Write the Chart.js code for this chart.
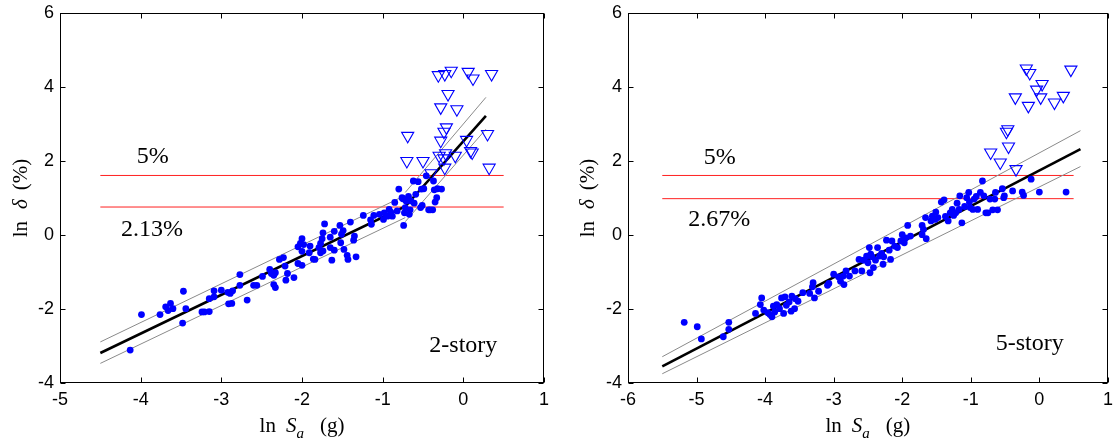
<!DOCTYPE html>
<html><head><meta charset="utf-8">
<script src="https://cdn.jsdelivr.net/npm/chart.js@4.4.1/dist/chart.umd.min.js"></script>
<style>
html,body{margin:0;padding:0;background:#fff;overflow:hidden}
#wrap{position:relative;width:1116px;height:443px;background:#fff}
canvas{position:absolute;top:0}
#c1{left:0}
#c2{left:558px}
</style></head><body>
<div id="wrap"><canvas id="c1" width="558" height="443"></canvas><canvas id="c2" width="558" height="443"></canvas></div>
<script>
// ---------- data: 2-story ----------
const story2Dots = [
[-4.13,-3.11],[-3.99,-2.15],[-3.76,-2.15],[-3.69,-1.94],[-3.63,-1.85],[-3.66,-2.04],[-3.60,-1.99],[-3.47,-1.52],
[-3.44,-1.99],[-3.48,-2.38],[-3.24,-2.08],[-3.21,-2.08],[-3.15,-2.07],[-3.15,-1.72],[-3.09,-1.51],[-3.09,-1.67],
[-3.00,-1.49],[-2.92,-1.55],[-2.89,-1.58],[-2.86,-1.51],[-2.91,-1.86],[-2.87,-1.85],[-2.77,-1.07],[-2.77,-1.36],
[-2.68,-1.76],[-2.60,-1.36],[-2.56,-1.36],[-2.49,-1.12],[-2.40,-0.93],[-2.38,-1.04],[-2.35,-1.09],[-2.33,-1.02],
[-2.35,-1.34],[-2.33,-1.42],[-2.28,-0.66],[-2.23,-0.61],[-2.21,-0.84],[-2.20,-1.22],[-2.18,-1.04],[-2.10,-1.15],
[-2.05,-0.32],[-2.02,-0.23],[-2.00,-0.10],[-1.98,-0.26],[-2.00,-0.44],[-2.05,-0.77],[-2.00,-0.82],[-1.91,-0.48],
[-1.90,-0.30],[-1.86,-0.65],[-1.84,-0.66],[-1.79,-0.34],[-1.77,-0.23],[-1.75,-0.10],[-1.74,0.06],[-1.72,0.30],
[-1.77,-0.48],[-1.74,-0.43],[-1.65,-0.06],[-1.63,-0.68],[-1.65,-0.34],[-1.60,-0.41],[-1.60,0.10],[-1.53,0.26],
[-1.51,0.02],[-1.49,0.12],[-1.48,-0.39],[-1.52,-0.21],[-1.44,-0.55],[-1.43,-0.66],[-1.40,0.35],[-1.36,-0.14],
[-1.35,-0.03],[-1.33,-0.59],[-1.24,0.53],[-1.15,0.41],[-1.14,0.29],[-1.11,0.53],[-1.04,0.56],[-0.99,0.42],
[-0.98,0.60],[-0.94,0.51],[-0.92,0.69],[-0.90,0.62],[-0.88,0.51],[-0.85,0.88],[-0.82,0.65],[-0.80,1.24],
[-0.76,1.01],[-0.75,0.98],[-0.74,0.26],[-0.73,0.60],[-0.72,0.74],[-0.71,0.92],[-0.68,1.04],[-0.66,0.68],
[-0.65,0.92],[-0.62,1.46],[-0.61,0.86],[-0.59,1.10],[-0.56,1.44],[-0.53,0.74],[-0.52,1.24],[-0.49,1.25],
[-0.51,0.80],[-0.46,1.60],[-0.43,0.68],[-0.41,0.68],[-0.38,0.68],[-0.37,1.46],[-0.36,1.22],[-0.35,0.89],
[-0.33,1.01],[-0.32,1.25],[-0.27,1.24],[-0.67,0.56]
];
const story2Collapse = [
[-0.69,2.68],[-0.70,2.00],[-0.50,2.00],[-0.40,1.67],[-0.31,4.32],[-0.23,4.35],[-0.15,4.44],[-0.19,3.81],
[-0.28,3.45],[-0.08,3.40],[0.06,4.41],[0.12,4.23],[0.35,4.35],[-0.21,2.91],[-0.24,2.79],[-0.28,2.55],
[-0.30,2.14],[-0.22,2.21],[-0.24,2.07],[-0.23,1.82],[-0.10,2.14],[0.04,2.57],[0.09,2.27],[0.11,2.23],
[0.30,2.73],[0.32,1.82]
];
const story2Fit    = [[-4.5,-3.19],[-0.72,0.77],[0.28,3.22]];
const story2UpperA = [[-4.5,-2.89],[-0.72,1.07]];
const story2UpperB = [[-0.72,1.15],[0.28,3.72]];
const story2LowerA = [[-4.5,-3.47],[-0.72,0.47]];
const story2LowerB = [[-0.72,0.36],[0.28,2.86]];
const story2Limits = [1.609, 0.756];
const story2LimitRange = [-4.5, 0.5];
const story2Labels = [["5%",-3.85,2.12],["2.13%",-3.86,0.15],["2-story",0.0,-2.99]];

// ---------- data: 5-story ----------
const story5Dots = [
[-5.18,-2.36],[-4.99,-2.48],[-4.93,-2.81],[-4.61,-2.75],[-4.53,-2.36],[-4.53,-2.55],[-4.14,-2.12],[-4.07,-1.88],
[-4.05,-1.70],[-4.02,-2.03],[-3.96,-2.10],[-3.93,-2.15],[-3.90,-2.21],[-3.88,-1.92],[-3.86,-2.08],[-3.83,-1.88],
[-3.79,-1.99],[-3.76,-1.70],[-3.73,-2.12],[-3.71,-1.67],[-3.69,-1.90],[-3.65,-1.81],[-3.62,-2.06],[-3.61,-1.65],
[-3.57,-1.99],[-3.56,-1.72],[-3.52,-1.79],[-3.45,-1.56],[-3.35,-1.58],[-3.31,-1.40],[-3.30,-1.29],[-3.28,-1.70],
[-3.22,-1.52],[-3.09,-1.36],[-3.07,-1.31],[-3.00,-1.06],[-2.93,-1.13],[-2.90,-1.25],[-2.86,-1.11],[-2.85,-1.34],
[-2.82,-0.97],[-2.77,-1.11],[-2.69,-0.97],[-2.63,-0.66],[-2.59,-0.97],[-2.56,-0.68],[-2.52,-0.57],[-2.50,-0.75],
[-2.48,-0.34],[-2.47,-1.02],[-2.46,-0.52],[-2.44,-0.59],[-2.42,-0.88],[-2.39,-0.68],[-2.36,-0.34],[-2.33,-0.57],
[-2.30,-0.50],[-2.28,-0.79],[-2.27,-0.59],[-2.23,-0.14],[-2.19,-0.41],[-2.17,-0.66],[-2.15,-0.16],[-2.11,-0.30],
[-2.07,-0.34],[-2.02,-0.16],[-2.00,0.01],[-1.97,-0.21],[-1.95,-0.08],[-1.92,0.26],[-1.88,-0.03],[-1.71,0.01],
[-1.71,0.26],[-1.69,0.15],[-1.66,0.47],[-1.65,-0.10],[-1.58,0.38],[-1.56,0.51],[-1.52,0.42],[-1.51,0.62],
[-1.48,0.47],[-1.43,0.89],[-1.39,0.95],[-1.37,0.50],[-1.33,0.38],[-1.30,0.60],[-1.27,0.69],[-1.25,0.53],
[-1.22,0.60],[-1.20,0.86],[-1.17,0.69],[-1.16,1.06],[-1.13,0.33],[-1.09,0.77],[-1.06,1.01],[-1.03,1.15],
[-1.02,0.89],[-1.01,0.74],[-0.97,0.69],[-0.95,0.97],[-0.92,1.04],[-0.90,0.69],[-0.86,1.15],[-0.83,1.46],
[-0.81,1.06],[-0.78,0.60],[-0.75,0.60],[-0.72,0.97],[-0.68,0.68],[-0.65,0.97],[-0.64,1.15],[-0.61,0.68],
[-0.54,1.25],[-0.52,1.01],[-0.51,1.06],[-0.39,1.19],[-0.25,1.16],[-0.23,1.07],[-0.12,1.51],[0.00,1.16],
[0.39,1.16]
];
const story5Collapse = [
[-0.71,2.23],[-0.57,1.96],[-0.48,2.79],[-0.46,2.86],[-0.45,2.39],[-0.34,1.78],[-0.35,3.72],[-0.16,3.49],
[-0.19,4.50],[-0.14,4.38],[-0.04,3.93],[0.04,4.08],[0.02,3.72],[0.22,3.58],[0.35,3.76],[0.46,4.47]
];
const story5Fit   = [[-5.5,-3.55],[0.6,2.32]];
const story5Upper = [[-5.5,-3.29],[0.6,2.82]];
const story5Lower = [[-5.5,-3.75],[0.6,1.85]];
const story5Limits = [1.609, 0.982];
const story5LimitRange = [-5.5, 0.5];
const story5Labels = [["5%",-4.66,2.09],["2.67%",-4.67,0.42],["5-story",-0.14,-2.93]];

const yTicksRange = [-4, 6];
const xRange2 = [-5, 1];
const xRange5 = [-6, 1];

// ---------- helpers ----------
const pts = a => a.map(p => ({x:p[0], y:p[1]}));
const lineDs = (a, color, w, order) => ({data:pts(a), showLine:true, borderColor:color, borderWidth:w,
  pointRadius:0, pointHoverRadius:0, fill:false, tension:0, order});
const dotDs = a => ({data:pts(a), pointRadius:3.4, pointHoverRadius:3.4, backgroundColor:'#0000ff',
  borderWidth:0, showLine:false, order:0});
const triDs = a => ({data:pts(a), pointStyle:'triangle', rotation:180, pointRadius:7, pointHoverRadius:7,
  backgroundColor:'rgba(0,0,0,0)', borderColor:'#0000ff', borderWidth:1.1, showLine:false, order:1});

const serif = '"Liberation Serif","Times New Roman",serif';
const sans = '"Liberation Sans",Arial,sans-serif';

const frame = {
  id:'frame',
  afterDraw(chart, args, opts){
    const {ctx, chartArea:a, scales:{x, y}} = chart;
    ctx.save();
    ctx.strokeStyle = '#000'; ctx.lineWidth = 1;
    const L = Math.round(a.left)+0.5, R = Math.round(a.right)-0.5, T = Math.round(a.top)+0.5, B = Math.round(a.bottom)-0.5;
    ctx.strokeRect(L, T, R-L, B-T);
    ctx.beginPath();
    x.ticks.forEach(t => {
      const px = Math.round(x.getPixelForValue(t.value))+0.5;
      ctx.moveTo(px, B); ctx.lineTo(px, B-5);
      ctx.moveTo(px, T); ctx.lineTo(px, T+5);
    });
    y.ticks.forEach(t => {
      const py = Math.round(y.getPixelForValue(t.value))+0.5;
      ctx.moveTo(L, py); ctx.lineTo(L+5, py);
      ctx.moveTo(R, py); ctx.lineTo(R-5, py);
    });
    ctx.stroke();
    // annotations
    ctx.fillStyle = '#000';
    ctx.font = '24px ' + serif;
    ctx.textAlign = 'center'; ctx.textBaseline = 'middle';
    opts.labels.forEach(l => ctx.fillText(l[0], x.getPixelForValue(l[1]), y.getPixelForValue(l[2])));
    // y title: ln δ (%)
    const cy = (a.top + a.bottom)/2;
    const yParts = [['ln','21px '+serif,12],['\u03B4','italic 21px '+serif,9],['(%)','21px '+serif,0]];
    let total = 0;
    yParts.forEach(p => { ctx.font = p[1]; total += ctx.measureText(p[0]).width + p[2]; });
    ctx.save();
    ctx.translate(opts.yTitleX, cy);
    ctx.rotate(-Math.PI/2);
    ctx.textAlign = 'left'; ctx.textBaseline = 'middle';
    let cx = -total/2;
    yParts.forEach(p => { ctx.font = p[1]; ctx.fillText(p[0], cx, 0); cx += ctx.measureText(p[0]).width + p[2]; });
    ctx.restore();
    // x title: ln S_a (g)
    const xParts = [['ln','21px '+serif,10,0],['S','italic 21px '+serif,0,0],['a','italic 15px '+serif,16,6],['(g)','21px '+serif,0,0]];
    total = 0;
    xParts.forEach(p => { ctx.font = p[1]; total += ctx.measureText(p[0]).width + p[2]; });
    ctx.textAlign = 'left'; ctx.textBaseline = 'alphabetic';
    cx = (a.left + a.right)/2 - total/2;
    xParts.forEach(p => { ctx.font = p[1]; ctx.fillText(p[0], cx, 432 + p[3]); cx += ctx.measureText(p[0]).width + p[2]; });
    ctx.restore();
  }
};

function makeChart(id, cfg){
  const datasets = [];
  datasets.push(dotDs(cfg.dots));
  datasets.push(triDs(cfg.collapse));
  datasets.push(lineDs(cfg.fit, '#000000', 2.6, 2));
  cfg.bands.forEach(b => datasets.push(lineDs(b, '#8a8a8a', 1, 3)));
  cfg.limits.forEach(v => datasets.push(lineDs([[cfg.limitRange[0], v],[cfg.limitRange[1], v]], '#ff2020', 1, 4)));
  return new Chart(document.getElementById(id), {
    type:'scatter',
    data:{datasets},
    options:{
      responsive:false, animation:false, devicePixelRatio:1,
      layout:{padding:{left:0, right:cfg.padRight, top:13, bottom:0}},
      plugins:{legend:{display:false}, tooltip:{enabled:false},
        frame:{labels:cfg.labels, yTitleX:cfg.yTitleX}},
      events:[],
      scales:{
        x:{type:'linear', min:cfg.xRange[0], max:cfg.xRange[1],
          ticks:{stepSize:1, color:'#000', font:{family:sans, size:18}, padding:6, maxRotation:0},
          grid:{display:false, drawTicks:false}, border:{display:false},
          afterFit(s){ s.height = 60; s.paddingLeft = 0; s.paddingRight = 0; }},
        y:{type:'linear', min:yTicksRange[0], max:yTicksRange[1],
          ticks:{stepSize:2, color:'#000', font:{family:sans, size:18}, padding:6},
          grid:{display:false, drawTicks:false}, border:{display:false},
          afterFit(s){ s.width = cfg.yWidth; s.paddingTop = 0; s.paddingBottom = 0; }}
      }
    },
    plugins:[frame]
  });
}

makeChart('c1', {fit:story2Fit, bands:[story2UpperA, story2UpperB, story2LowerA, story2LowerB],
  limits:story2Limits, limitRange:story2LimitRange, collapse:story2Collapse, dots:story2Dots,
  labels:story2Labels, xRange:xRange2, padRight:14, yWidth:60, yTitleX:21});
makeChart('c2', {fit:story5Fit, bands:[story5Upper, story5Lower],
  limits:story5Limits, limitRange:story5LimitRange, collapse:story5Collapse, dots:story5Dots,
  labels:story5Labels, xRange:xRange5, padRight:4, yWidth:70, yTitleX:30});
</script>
</body></html>
